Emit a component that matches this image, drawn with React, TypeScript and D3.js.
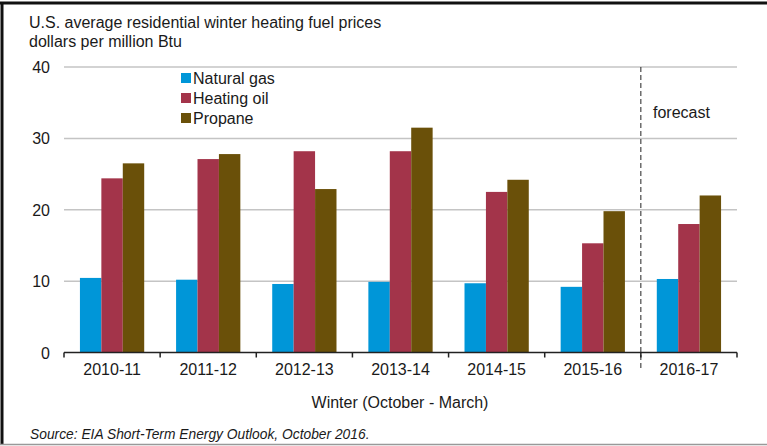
import React from "react";
import * as d3 from "d3";

const categories = ["2010-11", "2011-12", "2012-13", "2013-14", "2014-15", "2015-16", "2016-17"];
const naturalGas = [10.45, 10.2, 9.6, 9.9, 9.7, 9.2, 10.3];
const heatingOil = [24.4, 27.1, 28.2, 28.2, 22.5, 15.3, 18.0];
const propane = [26.5, 27.8, 22.9, 31.5, 24.2, 19.8, 22.0];
const seriesNames = ["Natural gas", "Heating oil", "Propane"];
const seriesColors = ["#0096d8", "#a3344a", "#6a5009"];
const yTicks = [0, 10, 20, 30, 40];

const W = 767;
const H = 446;
const left = 64;
const right = 737;
const top = 67;
const bottom = 352.5;
const font = "Arial, 'Liberation Sans', sans-serif";
const textColor = "#1a1a1a";

export default function App() {
  const x = d3.scaleBand<string>().domain(categories).range([left, right]).paddingInner(0).paddingOuter(0);
  const y = d3.scaleLinear().domain([0, 40]).range([bottom, top]);
  const inner = d3.scaleBand<string>().domain(seriesNames).range([0, x.bandwidth()]).paddingOuter(0.744).paddingInner(0);
  const series = [naturalGas, heatingOil, propane];
  const forecastX = x("2016-17") as number;

  return (
    <svg width={W} height={H} style={{ position: "absolute", left: 0, top: 0, background: "#fff" }} fontFamily={font}>
      <rect x={0} y={0} width={W} height={H} fill="#fff" />
      <line x1={0} x2={W} y1={3} y2={3} stroke="#111" strokeWidth={3} />
      <line x1={2} x2={2} y1={2} y2={H - 2} stroke="#111" strokeWidth={3} />
      <line x1={0} x2={W} y1={H - 1.5} y2={H - 1.5} stroke="#999" strokeWidth={1.5} />

      <text x={29} y={28} fontSize={16} fill={textColor}>U.S. average residential winter heating fuel prices</text>
      <text x={29} y={47} fontSize={16} fill={textColor}>dollars per million Btu</text>

      {yTicks.filter((t) => t > 0).map((t) => (
        <line key={"g" + t} x1={left} x2={right} y1={y(t)} y2={y(t)} stroke="#c4c4c4" strokeWidth={1.5} />
      ))}
      {yTicks.map((t) => (
        <text key={"yt" + t} x={50} y={y(t) + 6} fontSize={16} textAnchor="end" fill={textColor}>{t}</text>
      ))}

      {categories.map((c, i) => (
        <g key={c}>
          {series.map((s, j) => (
            <rect
              key={j}
              x={(x(c) as number) + (inner(seriesNames[j]) as number)}
              y={y(s[i])}
              width={inner.bandwidth()}
              height={y(0) - y(s[i])}
              fill={seriesColors[j]}
            />
          ))}
          <text x={(x(c) as number) + x.bandwidth() / 2} y={375} fontSize={16} textAnchor="middle" fill={textColor}>{c}</text>
        </g>
      ))}

      <line x1={left} x2={right} y1={bottom} y2={bottom} stroke="#222" strokeWidth={1.5} />
      {categories.concat(["end"]).map((c, i) => {
        const tx = left + i * x.step();
        return <line key={"tk" + i} x1={tx} x2={tx} y1={bottom} y2={bottom + 5} stroke="#222" strokeWidth={1.5} />;
      })}

      <line x1={forecastX} x2={forecastX} y1={top} y2={370} stroke="#222" strokeWidth={1} strokeDasharray="5,3" />
      <text x={653} y={118} fontSize={16} fill={textColor}>forecast</text>

      {seriesNames.map((n, j) => (
        <g key={n}>
          <rect x={181} y={73 + j * 20} width={10} height={10} fill={seriesColors[j]} />
          <text x={193} y={84 + j * 20} fontSize={16} fill={textColor}>{n}</text>
        </g>
      ))}

      <text x={400} y={408} fontSize={16} textAnchor="middle" fill={textColor}>Winter (October - March)</text>
      <text x={30} y={439} fontSize={13.8} fontStyle="italic" fill={textColor}>Source: EIA Short-Term Energy Outlook, October 2016.</text>
    </svg>
  );
}
